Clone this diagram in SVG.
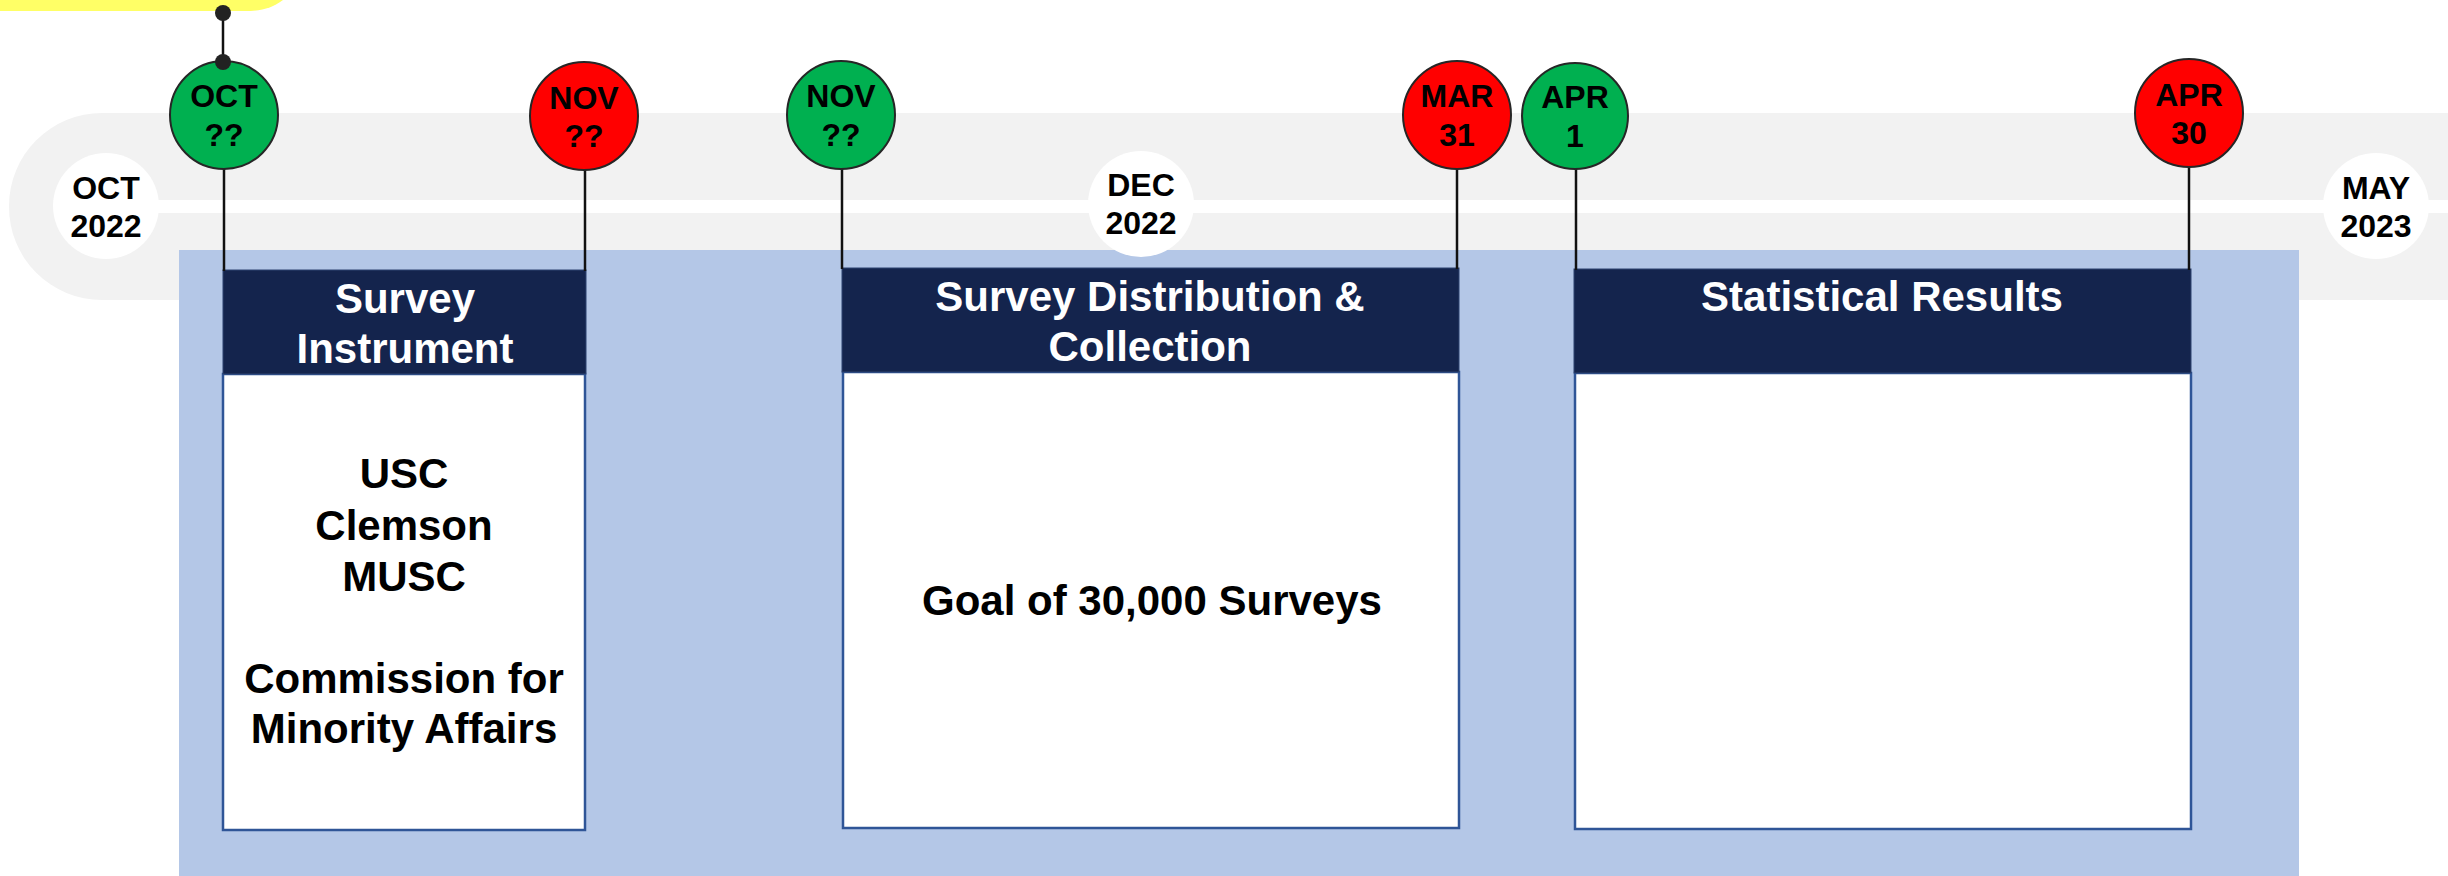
<svg xmlns="http://www.w3.org/2000/svg" width="2448" height="876" viewBox="0 0 2448 876">
<style>
text{font-family:"Liberation Sans",Arial,sans-serif;font-weight:bold;text-anchor:middle}
.date{font-size:32px;fill:#000}
.pin{stroke:#262626;stroke-width:2}
.green{fill:#00b050}
.red{fill:#ff0000}
.hdr{fill:#14244d;stroke:#2c4270;stroke-width:1}
.body{fill:#fff;stroke:#2f5597;stroke-width:2.5}
.htxt{font-size:42px;fill:#fff}
.btxt{font-size:42px;fill:#000}
.conn{stroke:#111;stroke-width:2.5;fill:none}
</style>
<rect width="2448" height="876" fill="#fff"/>
<path id="yellow-shape" d="M0,0 H283 C272,8 262,11 245,11 H0 Z" fill="#ffff66"/>
<rect id="timeline-band" x="9" y="113" width="2600" height="187" rx="93" fill="#f2f2f2"/>
<rect id="timeline-stripe" x="106" y="200" width="2342" height="13" fill="#fff"/>
<rect id="phase-panel" x="179" y="250" width="2120" height="626" fill="#b4c7e7"/>

<g id="date-oct2022">
<circle cx="106" cy="206" r="53" fill="#fff"/>
<text class="date" x="106" y="199">OCT</text>
<text class="date" x="106" y="237">2022</text>
</g>
<g id="date-dec2022">
<circle cx="1141" cy="204" r="53" fill="#fff"/>
<text class="date" x="1141" y="196">DEC</text>
<text class="date" x="1141" y="234">2022</text>
</g>
<g id="date-may2023">
<circle cx="2376" cy="206" r="53" fill="#fff"/>
<text class="date" x="2376" y="199">MAY</text>
<text class="date" x="2376" y="237">2023</text>
</g>

<g id="box-survey-instrument">
<rect class="body" x="223" y="374" width="362" height="456"/>
<rect class="hdr" x="223" y="270" width="363" height="104"/>
<text class="htxt" x="405" y="313">Survey</text>
<text class="htxt" x="405" y="363">Instrument</text>
<text class="btxt" x="404" y="488">USC</text>
<text class="btxt" x="404" y="540">Clemson</text>
<text class="btxt" x="404" y="591">MUSC</text>
<text class="btxt" x="404" y="693">Commission for</text>
<text class="btxt" x="404" y="743">Minority Affairs</text>
</g>

<g id="box-survey-distribution">
<rect class="body" x="843" y="372" width="616" height="456"/>
<rect class="hdr" x="842" y="268" width="617" height="104"/>
<text class="htxt" x="1150" y="311">Survey Distribution &amp;</text>
<text class="htxt" x="1150" y="361">Collection</text>
<text class="btxt" x="1152" y="615">Goal of 30,000 Surveys</text>
</g>

<g id="box-statistical-results">
<rect class="body" x="1575" y="373" width="616" height="456"/>
<rect class="hdr" x="1574" y="269" width="617" height="104"/>
<text class="htxt" x="1882" y="311">Statistical Results</text>
</g>

<g id="connectors">
<line class="conn" x1="223" y1="13" x2="223" y2="62"/>
<circle cx="223" cy="13" r="8" fill="#222"/>
<line class="conn" x1="224" y1="168" x2="224" y2="271"/>
<line class="conn" x1="585" y1="169" x2="585" y2="271"/>
<line class="conn" x1="842" y1="168" x2="842" y2="269"/>
<line class="conn" x1="1457" y1="168" x2="1457" y2="269"/>
<line class="conn" x1="1576" y1="169" x2="1576" y2="270"/>
<line class="conn" x1="2189" y1="166" x2="2189" y2="270"/>
</g>

<g id="pin-oct">
<circle class="pin green" cx="224" cy="115" r="54"/>
<text class="date" x="224" y="107">OCT</text>
<text class="date" x="224" y="146">??</text>
</g>
<circle id="pin-anchor" cx="223" cy="62" r="8" fill="#222"/>
<g id="pin-nov-end">
<circle class="pin red" cx="584" cy="116" r="54"/>
<text class="date" x="584" y="109">NOV</text>
<text class="date" x="584" y="147">??</text>
</g>
<g id="pin-nov-start">
<circle class="pin green" cx="841" cy="115" r="54"/>
<text class="date" x="841" y="107">NOV</text>
<text class="date" x="841" y="146">??</text>
</g>
<g id="pin-mar31">
<circle class="pin red" cx="1457" cy="115" r="54"/>
<text class="date" x="1457" y="107">MAR</text>
<text class="date" x="1457" y="146">31</text>
</g>
<g id="pin-apr1">
<circle class="pin green" cx="1575" cy="116" r="53"/>
<text class="date" x="1575" y="108">APR</text>
<text class="date" x="1575" y="147">1</text>
</g>
<g id="pin-apr30">
<circle class="pin red" cx="2189" cy="113" r="54"/>
<text class="date" x="2189" y="106">APR</text>
<text class="date" x="2189" y="144">30</text>
</g>
</svg>
